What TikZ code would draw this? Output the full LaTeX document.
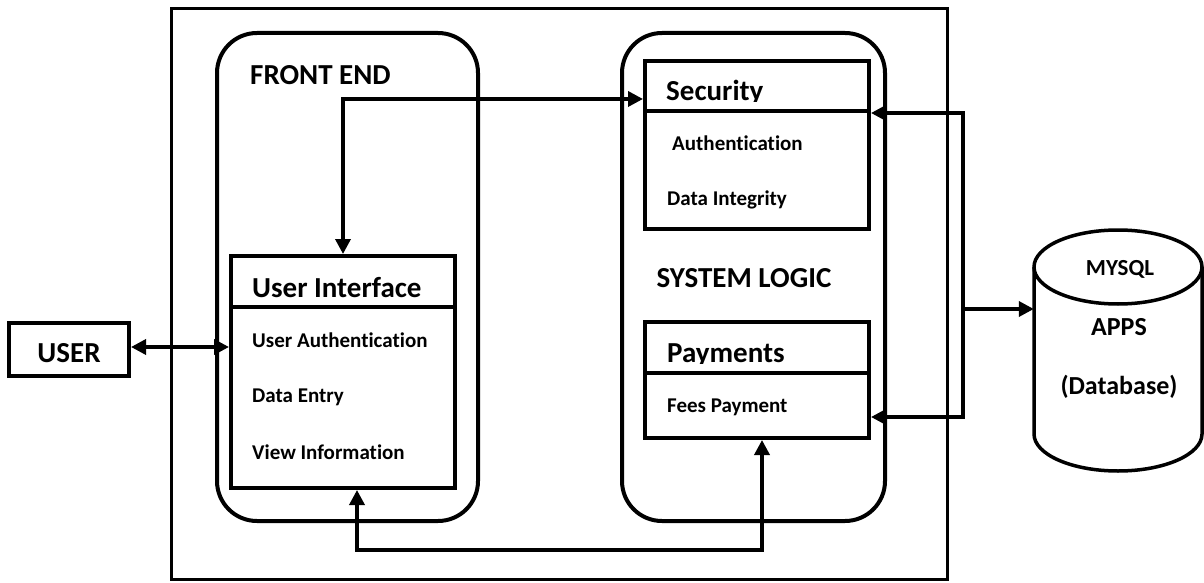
\documentclass[tikz,border=0pt]{standalone}
\usepackage{fontspec}
\setmainfont{Carlito}[Ligatures={NoCommon,NoRequired,NoContextual}]
\usetikzlibrary{arrows.meta}
\tikzset{
  FrameStyle/.style = {draw=black, line width=3pt, inner sep=0pt},
  GroupStyle/.style = {draw=black, line width=4pt, rounded corners=40pt, inner sep=0pt},
  BoxStyle/.style = {draw=black, line width=4pt, inner sep=0pt},
  TitleStyle/.style = {font=\fontsize{29}{34}\selectfont\bfseries, inner sep=0pt},
  ItemStyle/.style = {font=\fontsize{21}{25}\selectfont\bfseries, inner sep=0pt, anchor=west},
  EdgeStyle/.style = {black, line width=3.5pt, <->, >={Triangle[width=15pt,length=15pt]}} }

\begin{document}
\begin{tikzpicture}[x=1pt, y=1pt]
  \useasboundingbox (0,0) rectangle (1204,582);
  \node[FrameStyle, minimum width=776pt, minimum height=570pt] (frame) at (559,288) {};
  \node[GroupStyle, minimum width=261pt, minimum height=488pt] (front) at (347.5,305) {};
  \node[GroupStyle, minimum width=263pt, minimum height=488pt] (logic) at (753.5,305) {};
  \node[BoxStyle, minimum width=224pt, minimum height=232pt] (ui) at (343,210) {};
  \node[BoxStyle, minimum width=224pt, minimum height=168pt] (sec) at (757,437) {};
  \node[BoxStyle, minimum width=224pt, minimum height=116pt] (pay) at (757,202) {};
  \node[BoxStyle, minimum width=120pt, minimum height=53pt] (user) at (69,232.5) {};
  \draw[BoxStyle] ([yshift=-53pt]ui.north west) -- ([yshift=-53pt]ui.north east);
  \draw[BoxStyle] ([yshift=-52pt]sec.north west) -- ([yshift=-52pt]sec.north east);
  \draw[BoxStyle] ([yshift=-53pt]pay.north west) -- ([yshift=-53pt]pay.north east);

  \node[TitleStyle, anchor=west] (frontlabel) at (250,507) {FRONT END};
  \node[TitleStyle] (logiclabel) at (744,304) {SYSTEM LOGIC};
  \node[TitleStyle] (userlabel) at (69,229) {USER};
  \node[TitleStyle, anchor=west] (uititle) at (252,294) {User Interface};
  \node[ItemStyle] (ui1) at (252,242) {User Authentication};
  \node[ItemStyle] (ui2) at (252,185) {Data Entry};
  \node[ItemStyle] (ui3) at (252,130) {View Information};
  \begin{scope}
    \clip (645,480) rectangle (869,521);
    \node[TitleStyle, anchor=base west] (sectitle) at (666,481) {Security};
  \end{scope}
  \begin{scope}
    \clip (645,219) rectangle (869,260);
    \node[TitleStyle, anchor=base west] (paytitle) at (667,220) {Payments};
  \end{scope}
  \node[ItemStyle] (sec1) at (672,439) {Authentication};
  \node[ItemStyle] (sec2) at (667,382) {Data Integrity};
  \node[ItemStyle] (pay1) at (667,175) {Fees Payment};

  \node[minimum width=168pt, minimum height=167pt, inner sep=0pt] (db) at (1118,231.5) {};
  \draw[line width=3.5pt] (1118,315) ellipse [x radius=84pt, y radius=37pt];
  \draw[line width=3.5pt] (1034,315) -- (1034,148)
    arc[start angle=180, end angle=360, x radius=84pt, y radius=37pt] -- (1202,315);
  \node[font=\fontsize{23}{27}\selectfont\bfseries, inner sep=0pt] (dbtop) at (1120,313) {MYSQL};
  \node[font=\fontsize{26}{30}\selectfont\bfseries, inner sep=0pt] (dbname) at (1119,255) {APPS};
  \node[font=\fontsize{26}{30}\selectfont\bfseries, inner sep=0pt] (dbkind) at (1119,195) {(Database)};

  \coordinate (railtop) at (963,469);
  \coordinate (railmid) at (963,273);
  \coordinate (railbot) at (963,165);
  \coordinate (loop) at (762,32);
  \draw[EdgeStyle] (user.east |- 0,235) -- (ui.west |- 0,235);
  \draw[EdgeStyle] (ui.north) |- ([yshift=-40pt]sec.north west);
  \draw[EdgeStyle] ([xshift=14pt]ui.south) |- (loop) -- (loop |- pay.south);
  \draw[EdgeStyle] (sec.east |- railtop) -- (railtop) -- (railbot) -- (pay.east |- railbot);
  \draw[EdgeStyle, <-] (db.west |- railmid) -- (railmid);
\end{tikzpicture}
\end{document}
